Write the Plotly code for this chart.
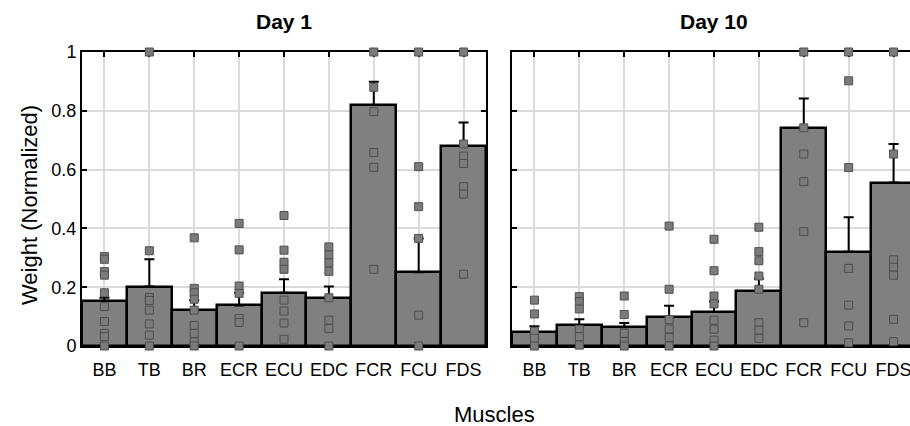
import plotly.graph_objects as go

muscles = ["BB", "TB", "BR", "ECR", "ECU", "EDC", "FCR", "FCU", "FDS"]

# Day 1 bar means and (upper) error
day1_mean = [0.154, 0.202, 0.122, 0.138, 0.181, 0.164, 0.820, 0.251, 0.680]
day1_err = [0.010, 0.093, 0.034, 0.043, 0.046, 0.038, 0.079, 0.115, 0.080]

# Day 10 bar means and (upper) error
day10_mean = [0.047, 0.071, 0.064, 0.099, 0.116, 0.186, 0.743, 0.321, 0.556]
day10_err = [0.020, 0.020, 0.014, 0.038, 0.035, 0.044, 0.099, 0.117, 0.131]

# Individual subject points, Day 1
day1_pts = {
    "BB": [0.304, 0.295, 0.253, 0.241, 0.181, 0.134, 0.083, 0.043, 0.032, 0.0],
    "TB": [1.0, 0.324, 0.165, 0.155, 0.122, 0.075, 0.037, 0.0],
    "BR": [0.368, 0.196, 0.181, 0.159, 0.122, 0.070, 0.043, 0.014, 0.0],
    "ECR": [0.417, 0.327, 0.204, 0.179, 0.094, 0.080, 0.0],
    "ECU": [0.444, 0.326, 0.285, 0.261, 0.156, 0.119, 0.078, 0.023],
    "EDC": [0.337, 0.310, 0.283, 0.254, 0.164, 0.088, 0.060, 0.0],
    "FCR": [1.0, 0.880, 0.797, 0.658, 0.608, 0.261],
    "FCU": [1.0, 0.610, 0.474, 0.366, 0.105, 0.0],
    "FDS": [1.0, 0.687, 0.646, 0.621, 0.542, 0.517, 0.244],
}

# Individual subject points, Day 10
day10_pts = {
    "BB": [0.156, 0.109, 0.050, 0.026, 0.0],
    "TB": [0.168, 0.151, 0.126, 0.057, 0.032, 0.003],
    "BR": [0.170, 0.107, 0.043, 0.015, 0.0],
    "ECR": [0.408, 0.193, 0.090, 0.058, 0.029, 0.0],
    "ECU": [0.363, 0.256, 0.170, 0.143, 0.088, 0.057, 0.020, 0.0],
    "EDC": [0.404, 0.321, 0.290, 0.238, 0.193, 0.079, 0.054, 0.026],
    "FCR": [1.0, 0.742, 0.653, 0.559, 0.389, 0.079],
    "FCU": [1.0, 0.902, 0.607, 0.264, 0.139, 0.068, 0.011],
    "FDS": [1.0, 0.653, 0.293, 0.268, 0.241, 0.091, 0.015],
}

y_ticks = [0, 0.2, 0.4, 0.6, 0.8, 1.0]
y_ticklabels = ["0", "0.2", "0.4", "0.6", "0.8", "1"]

BAR_COLOR = "#808080"
PT_FILL = "#7b7b7b"
PT_EDGE = "#4f4f4f"
FONT = "Liberation Sans, Arial, sans-serif"

fig = go.Figure()


def add_panel(means, errs, pts, xa, ya):
    fig.add_trace(go.Bar(
        x=muscles, y=means, width=1.0,
        marker=dict(color=BAR_COLOR, line=dict(color="black", width=2.5)),
        error_y=dict(type="data", symmetric=False, array=errs,
                     arrayminus=[0] * len(errs), color="black",
                     thickness=2, width=5),
        xaxis=xa, yaxis=ya, showlegend=False, hoverinfo="skip",
    ))
    xs, ys = [], []
    for m in muscles:
        for v in pts[m]:
            xs.append(m)
            ys.append(v)
    fig.add_trace(go.Scatter(
        x=xs, y=ys, mode="markers",
        marker=dict(symbol="square", size=8, color=PT_FILL,
                    line=dict(color=PT_EDGE, width=1)),
        cliponaxis=False,
        xaxis=xa, yaxis=ya, showlegend=False, hoverinfo="skip",
    ))


add_panel(day1_mean, day1_err, day1_pts, "x", "y")
add_panel(day10_mean, day10_err, day10_pts, "x2", "y2")

W, H = 910, 426
left1, right1 = 82, 486
left2, right2 = 512, 910
top, bottom = 52, 346

xcommon = dict(
    type="category", categoryorder="array", categoryarray=muscles,
    showgrid=True, gridcolor="#dadada", gridwidth=1.5,
    showline=True, linecolor="black", linewidth=2,
    ticks="inside", ticklen=5, tickwidth=1.5, tickcolor="black",
    mirror="ticks", layer="below traces", automargin=False,
    ticklabelstandoff=6,
    tickfont=dict(family=FONT, size=18, color="black"),
    zeroline=False, fixedrange=True,
)
ycommon = dict(
    range=[0, 1], tickvals=y_ticks, ticktext=y_ticklabels,
    showgrid=True, gridcolor="#dadada", gridwidth=1.5,
    showline=True, linecolor="black", linewidth=2,
    ticks="inside", ticklen=5, tickwidth=1.5, tickcolor="black",
    layer="below traces", automargin=False,
    tickfont=dict(family=FONT, size=18, color="black"),
    zeroline=False, fixedrange=True,
)

ydom = [(H - bottom) / H, (H - top) / H]

fig.update_layout(
    template="none",
    width=W, height=H,
    margin=dict(l=0, r=0, t=0, b=0, autoexpand=False),
    paper_bgcolor="white", plot_bgcolor="white",
    bargap=0,
    xaxis=dict(xcommon, domain=[left1 / W, right1 / W], range=[-0.5, 8.5],
               anchor="y"),
    yaxis=dict(ycommon, domain=ydom, anchor="x", mirror="ticks"),
    xaxis2=dict(xcommon, domain=[left2 / W, right2 / W],
                range=[-0.5, -0.5 + (right2 - left2) / ((right1 - left1) / 9)],
                anchor="y2"),
    yaxis2=dict(ycommon, domain=ydom, anchor="x2", mirror=False,
                showticklabels=False),
    font=dict(family=FONT, color="black"),
    annotations=[
        dict(text="<b>Day 1</b>", x=(left1 + right1) / 2 / W, y=(H - 21) / H,
             xref="paper", yref="paper", xanchor="center", yanchor="middle",
             showarrow=False, font=dict(family=FONT, size=21, color="black")),
        dict(text="<b>Day 10</b>", x=(left2 + 916) / 2 / W, y=(H - 21) / H,
             xref="paper", yref="paper", xanchor="center", yanchor="middle",
             showarrow=False, font=dict(family=FONT, size=21, color="black")),
        dict(text="Muscles", x=495 / W, y=(H - 414) / H,
             xref="paper", yref="paper", xanchor="center", yanchor="middle",
             showarrow=False, font=dict(family=FONT, size=22, color="black")),
        dict(text="Weight (Normalized)", x=30 / W, y=(H - 205) / H,
             xref="paper", yref="paper", xanchor="center", yanchor="middle",
             textangle=-90,
             showarrow=False, font=dict(family=FONT, size=22, color="black")),
    ],
)

fig.write_html("out.html")
